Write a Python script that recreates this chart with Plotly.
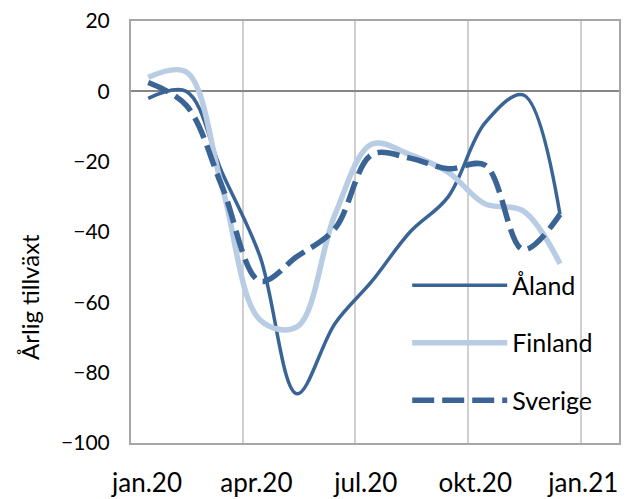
import plotly.graph_objects as go

months = ["2020-01-15", "2020-02-15", "2020-03-15", "2020-04-15", "2020-05-15", "2020-06-15",
          "2020-07-15", "2020-08-15", "2020-09-15", "2020-10-15", "2020-11-15", "2020-12-15"]
aland = [-2, 0, -23, -47, -86, -66, -54, -40, -30, -9, -1, -35]
finland = [4, 5.5, -27, -65, -67, -35, -15, -18, -23, -32, -34, -49]
sverige = [2.5, -4, -27, -54, -47, -39, -18, -19, -22, -21, -45, -35]

tick_labels = ["jan.20", "apr.20", "jul.20", "okt.20", "jan.21"]
tick_pos = ["2020-01-14", "2020-04-12", "2020-07-10", "2020-10-07", "2021-01-03"]
grid_pos = ["2020-04-01", "2020-07-01", "2020-10-01", "2021-01-01"]

dark = "#3A6496"
light = "#B8CCE4"
font = "Lato, Carlito, Calibri, sans-serif"

fig = go.Figure()
fig.add_trace(go.Scatter(x=months, y=aland, name="Åland", mode="lines", legendgroup="a",
                         line=dict(color=dark, width=3.5, shape="spline", smoothing=1.0)))
fig.add_trace(go.Scatter(x=months, y=finland, name="Finland", mode="lines", legendgroup="b",
                         line=dict(color=light, width=5.5, shape="spline", smoothing=1.0)))
fig.add_trace(go.Scatter(x=months, y=sverige, name="Sverige", mode="lines", legendgroup="c",
                         line=dict(color=dark, width=5.5, shape="spline", smoothing=1.0, dash="22px,8px")))

fig.update_layout(
    width=628, height=491,
    margin=dict(l=123, r=17, t=13, b=56),
    paper_bgcolor="white", plot_bgcolor="white",
    font=dict(family=font, size=21, color="black"),
    showlegend=True,
    legend=dict(x=0.566, y=0.428, xanchor="left", yanchor="top", bgcolor="rgba(0,0,0,0)",
                tracegroupgap=22, traceorder="grouped", itemwidth=95,
                font=dict(size=25)),
    annotations=[dict(text="Årlig tillväxt", textangle=-90, xref="paper", yref="paper",
                      x=-0.207, y=0.346, xanchor="center", yanchor="middle", showarrow=False,
                      font=dict(size=24))],
)
fig.update_xaxes(
    type="date", range=["2020-01-01", "2021-02-01"], automargin=False,
    tickvals=tick_pos, ticktext=tick_labels, showgrid=False, ticklabeloverflow="allow",
    ticks="", ticklabelstandoff=16, tickfont=dict(size=26),
    minor=dict(tickvals=grid_pos, showgrid=True, gridcolor="#D0D0D0", gridwidth=2, ticks=""),
    showline=True, mirror=True, linecolor="#A6A6A6", linewidth=2, zeroline=False,
)
fig.update_yaxes(
    range=[-100, 20], dtick=20, showgrid=False, ticks="", ticklabelstandoff=15, automargin=False,
    ticklabeloverflow="allow",
    zeroline=True, zerolinecolor="#868686", zerolinewidth=2,
    showline=True, mirror=True, linecolor="#A6A6A6", linewidth=2,
)
fig.write_html("out.html")
